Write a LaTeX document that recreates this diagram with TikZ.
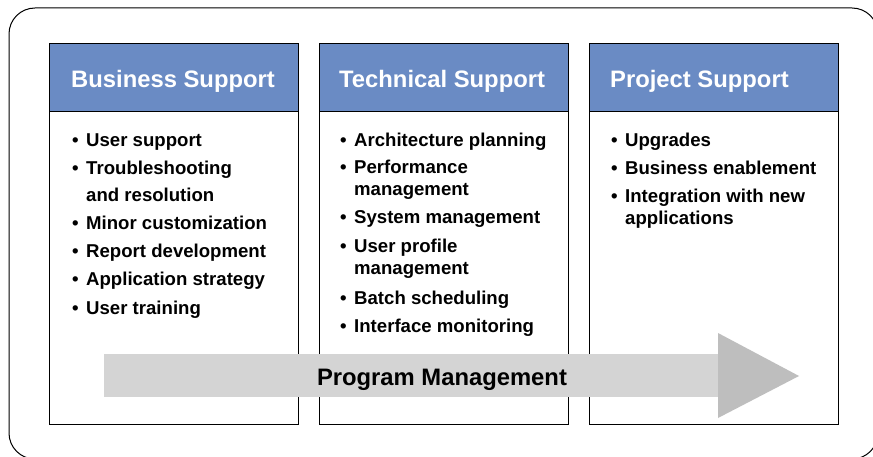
\documentclass[tikz,border=0pt]{standalone}
\usepackage{fontspec}
\setmainfont{Liberation Sans}
\definecolor{hdrblue}{HTML}{6A8BC4}
\definecolor{arrbody}{HTML}{D4D4D4}
\definecolor{arrhead}{HTML}{BEBEBE}
\newcommand{\bul}{\llap{•\hspace{7.5pt}}}
\begin{document}
\begin{tikzpicture}[x=1pt,y=-1pt,
  hdr/.style={draw=black,line width=1.1pt,fill=hdrblue,minimum width=249pt,minimum height=68pt,anchor=north west,inner sep=0pt},
  bodybox/.style={draw=black,line width=1.1pt,fill=white,minimum width=249pt,minimum height=313pt,anchor=north west,inner sep=0pt},
  hdrtxt/.style={anchor=base west,inner sep=0pt,text=white,font=\fontsize{23.8}{26}\selectfont\bfseries},
  item/.style={anchor=base west,inner sep=0pt,font=\fontsize{18.6}{21}\selectfont\bfseries},
]
\useasboundingbox (0,0) rectangle (873,457);
\begin{scope}
\clip (0,0) rectangle (873,457);
\draw[line width=1pt,rounded corners=26pt] (9,8) rectangle (878,459);
\end{scope}
% columns
\node[bodybox] (b1) at (49,111) {};
\node[hdr] (h1) at (49,43) {};
\node[bodybox] (b2) at (319,111) {};
\node[hdr] (h2) at (319,43) {};
\node[bodybox] (b3) at (589,111) {};
\node[hdr] (h3) at (589,43) {};
\node[hdrtxt] (t1) at (71,88) {Business Support};
\node[hdrtxt] (t2) at (339,88) {Technical Support};
\node[hdrtxt] (t3) at (610,88) {Project Support};
% business items
\node[item] (a1) at (86,147) {\bul User support};
\node[item] (a2) at (86,175) {\bul Troubleshooting};
\node[item] (a3) at (86,202) {and resolution};
\node[item] (a4) at (86,230) {\bul Minor customization};
\node[item] (a5) at (86,258) {\bul Report development};
\node[item] (a6) at (86,286) {\bul Application strategy};
\node[item] (a7) at (86,314) {\bul User training};
% technical items
\node[item] (c1) at (354,147) {\bul Architecture planning};
\node[item] (c2) at (354,174) {\bul Performance};
\node[item] (c3) at (354,196) {management};
\node[item] (c4) at (354,224) {\bul System management};
\node[item] (c5) at (354,252) {\bul User profile};
\node[item] (c6) at (354,275) {management};
\node[item] (c7) at (354,304) {\bul Batch scheduling};
\node[item] (c8) at (354,332) {\bul Interface monitoring};
% project items
\node[item] (p1) at (625,147) {\bul Upgrades};
\node[item] (p2) at (625,175) {\bul Business enablement};
\node[item] (p3) at (625,203) {\bul Integration with new};
\node[item] (p4) at (625,225) {applications};
% arrow
\fill[arrbody] (104,354) rectangle (718,397);
\fill[arrhead] (718,333) -- (799,376) -- (718,418) -- cycle;
\node[anchor=base,inner sep=0pt,font=\fontsize{23.8}{26}\selectfont\bfseries] (pm) at (442,385) {Program Management};
\end{tikzpicture}
\end{document}
